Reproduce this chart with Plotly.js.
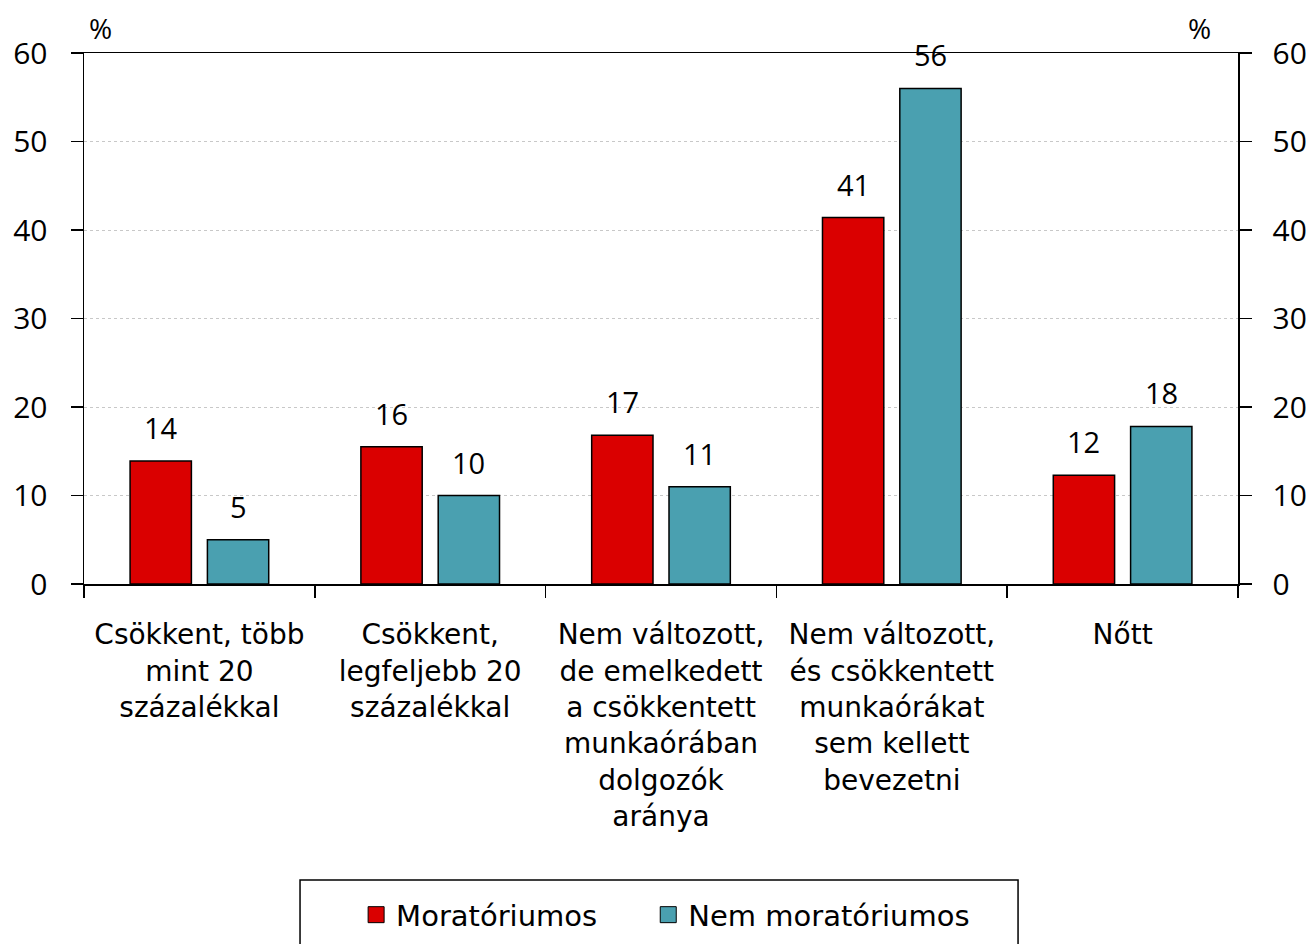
<!DOCTYPE html>
<html>
<head>
<meta charset="utf-8">
<script src="https://cdn.plot.ly/plotly-3.0.1.min.js"></script>
<style>html,body{margin:0;padding:0;background:#fff;}#chart{width:1313px;height:944px;}</style>
</head>
<body>
<div id="chart"></div>
<script>
const categories = [
  "Csökkent, több<br>mint 20<br>százalékkal",
  "Csökkent,<br>legfeljebb 20<br>százalékkal",
  "Nem változott,<br>de emelkedett<br>a csökkentett<br>munkaórában<br>dolgozók<br>aránya",
  "Nem változott,<br>és csökkentett<br>munkaórákat<br>sem kellett<br>bevezetni",
  "Nőtt"
];
const seriesNames = ["Moratóriumos", "Nem moratóriumos"];
const moratoriumos = [13.9, 15.5, 16.8, 41.4, 12.3];
const nemMoratoriumos = [5.0, 10.0, 11.0, 56.0, 17.8];
const yTicks = [0, 10, 20, 30, 40, 50, 60];
const unitLabel = "%";

const NUMFONT = "'Open Sans', sans-serif";
const TXTFONT = "'DejaVu Sans', sans-serif";
const RED = "#DA0000";
const TEAL = "#4AA0B0";
const seriesColors = [RED, TEAL];
const seriesData = [moratoriumos, nemMoratoriumos];
const legendPad = ["\u00a0\u00a0\u00a0\u00a0\u00a0", ""];

const traces = [];
seriesData.forEach((vals, k) => {
  traces.push({type: "bar", name: seriesNames[k], x: categories, y: vals, showlegend: false,
    marker: {color: seriesColors[k], line: {color: "#000", width: 1.5}}, hoverinfo: "y"});
});
// legend entries (square symbols)
seriesNames.forEach((n, k) => {
  traces.push({type: "scatter", mode: "markers", name: n + legendPad[k], x: [null], y: [null],
    marker: {symbol: "square", size: 16, color: seriesColors[k], line: {color: "#000", width: 1}}, hoverinfo: "skip"});
});
traces.push({type: "scatter", x: [], y: [], yaxis: "y2", showlegend: false, hoverinfo: "skip"});

const annotations = [];
const off = 38.7;
categories.forEach((c, i) => {
  seriesData.forEach((vals, k) => {
    annotations.push({x: c, y: vals[i], xref: "x", yref: "y", text: String(Math.round(vals[i])),
      showarrow: false, yanchor: "bottom", xanchor: "center", xshift: k === 0 ? -off : off, yshift: 12,
      font: {size: 29, color: "#000", family: NUMFONT}});
  });
});
annotations.push({x: 0.0139, y: 1.047, xref: "paper", yref: "paper", xanchor: "center", yanchor: "middle",
  text: unitLabel, showarrow: false, font: {size: 28, color: "#000", family: NUMFONT}});
annotations.push({x: 0.967, y: 1.047, xref: "paper", yref: "paper", xanchor: "center", yanchor: "middle",
  text: unitLabel, showarrow: false, font: {size: 28, color: "#000", family: NUMFONT}});

const yCommon = {
  range: [0, 60], tickvals: yTicks, ticks: "outside", ticklen: 12, tickwidth: 1.5, tickcolor: "#000",
  showline: true, linecolor: "#000", linewidth: 1.5, zeroline: false,
  tickfont: {size: 30, color: "#000", family: NUMFONT}, fixedrange: true
};

const layout = {
  width: 1313, height: 944,
  margin: {l: 84, r: 75, t: 53, b: 360, autoexpand: false},
  paper_bgcolor: "#fff", plot_bgcolor: "#fff",
  font: {family: TXTFONT, size: 28, color: "#000"},
  barmode: "group", bargap: 0.33, bargroupgap: 0.207,
  xaxis: {
    type: "category", showline: true, linecolor: "#000", linewidth: 1.5, mirror: true,
    ticks: "outside", tickson: "boundaries", ticklen: 12, tickwidth: 1.5, tickcolor: "#000",
    tickfont: {size: 28, color: "#000", family: TXTFONT}, showgrid: false, fixedrange: true,
    ticklabelstandoff: 25, automargin: false
  },
  yaxis: Object.assign({}, yCommon, {side: "left", showgrid: true, gridcolor: "#c8c8c8", gridwidth: 1, griddash: "dot", ticklabelstandoff: 17, automargin: false}),
  yaxis2: Object.assign({}, yCommon, {side: "right", overlaying: "y", showgrid: false, ticklabelstandoff: 15, automargin: false}),
  showlegend: true,
  legend: {
    orientation: "h", x: 0.504, xanchor: "center", y: -0.623, yanchor: "middle",
    borderwidth: 0, bgcolor: "rgba(0,0,0,0)",
    font: {size: 29, color: "#000", family: TXTFONT}, traceorder: "normal", itemclick: false
  },
  shapes: [{type: "rect", xref: "paper", yref: "paper", x0: 0.1872, x1: 0.8094, y0: -0.5574, y1: -0.72,
    line: {color: "#000", width: 1.5}, fillcolor: "rgba(0,0,0,0)"}],
  annotations: annotations
};

Plotly.newPlot("chart", traces, layout, {displayModeBar: false, staticPlot: true});
</script>
</body>
</html>
